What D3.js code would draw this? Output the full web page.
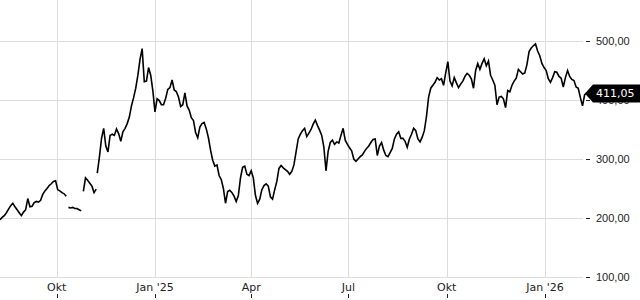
<!DOCTYPE html>
<html>
  <head>
    <meta charset="utf-8">
    <title>Kursverlauf</title>
    <script src="https://d3js.org/d3.v7.min.js"></script>
    <style>
      html, body { margin: 0; padding: 0; background: #fff; }
      #chart { display: block; font-family: "DejaVu Sans", sans-serif; }
      .grid line { stroke: #dcdcdc; stroke-width: 1; shape-rendering: crispEdges; }
      .price { fill: none; stroke: #000; stroke-width: 1.6; stroke-linejoin: miter; }
      .axisText { font-size: 11px; fill: #222; }
      .tick line { stroke: #222; }
    </style>
  </head>
  <body>
    <svg id="chart" width="640" height="300">
      <g id="gridGroup" class="grid"></g>
      <g id="axisGroup"></g>
      <g id="lineGroup"></g>
      <g id="labelGroup"></g>
    </svg>
    <script>
      // chart data: price segments, one value every two days from each start date
      var segmentStarts = ["2024-08-09", "2024-10-12", "2024-10-26", "2024-11-08"];
      var stepDays = 2;
      var seg1 = [197, 201, 204, 209, 215, 221, 225, 219, 214, 209, 204, 210, 214, 233, 219, 220,
        226, 228, 227, 230, 240, 246, 250, 255, 258, 262, 263, 248, 246, 243, 241, 237];
      var seg2 = [218, 217, 218, 216, 216, 214, 212];
      var seg3 = [245, 268, 264, 259, 254, 243, 249];
      var seg4 = [276, 303, 335, 352, 322, 312, 340, 342, 340, 351, 343, 330, 346, 352, 360, 371,
        390, 404, 420, 442, 469, 487, 431, 432, 455, 442, 416, 380, 402, 399, 392, 392,
        403, 418, 421, 434, 417, 414, 405, 389, 392, 412, 390, 383, 370, 365, 345, 336,
        354, 360, 362, 351, 336, 315, 298, 288, 290, 272, 265, 250, 225, 245, 247, 243,
        237, 228, 238, 268, 286, 288, 274, 272, 280, 268, 238, 225, 232, 248, 255, 258,
        254, 236, 232, 248, 262, 284, 289, 285, 282, 279, 274, 279, 290, 312, 334, 342,
        348, 352, 338, 344, 350, 359, 366, 357, 349, 340, 320, 280, 313, 328, 332, 325,
        329, 327, 340, 352, 332, 325, 319, 314, 300, 296, 300, 304, 307, 313, 318, 322,
        328, 333, 334, 306, 322, 328, 315, 306, 304, 311, 318, 334, 342, 346, 335, 335,
        330, 320, 334, 342, 352, 348, 334, 329, 337, 348, 372, 405, 420, 425, 430, 438,
        434, 436, 425, 446, 465, 432, 424, 438, 429, 421, 427, 432, 440, 445, 442, 436,
        420, 450, 462, 452, 462, 470, 458, 466, 442, 434, 425, 392, 405, 406, 402, 387,
        416, 414, 425, 432, 437, 452, 448, 444, 446, 460, 482, 488, 492, 495, 483, 475,
        462, 455, 450, 436, 430, 438, 448, 447, 440, 437, 422, 438, 450, 440, 435, 433,
        422, 420, 404, 390, 409, 412, 411.05];
      var segments = [seg1, seg2, seg3, seg4];
      // axis ticks
      var yTicks = [100, 200, 300, 400, 500];
      var xTickDates = ["2024-10-01", "2025-01-01", "2025-04-01", "2025-07-01", "2025-10-01", "2026-01-01"];
      var xTickLabels = ["Okt", "Jan '25", "Apr", "Jul", "Okt", "Jan '26"];
      var xDomain = ["2024-08-09", "2026-02-12"];

      var parse = d3.timeParse("%Y-%m-%d");
      var de = d3.formatLocale({ decimal: ",", thousands: ".", grouping: [3], currency: ["", " €"] });
      var fmt = de.format(",.2f");

      // build dated points per segment
      var series = segments.map(function(values, s) {
        var start = parse(segmentStarts[s]);
        return values.map(function(v, i) {
          return { date: d3.timeDay.offset(start, i * stepDays), value: v };
        });
      });
      var lastPoint = series[series.length - 1][series[series.length - 1].length - 1];

      // set up
      var plotRight = 583;
      var x = d3.scaleTime()
        .domain(xDomain.map(parse))
        .range([0, 590]);
      var y = d3.scaleLinear()
        .domain([100, 500])
        .range([277, 41]);

      var gridGroup = d3.select("#gridGroup");
      var axisGroup = d3.select("#axisGroup");
      var lineGroup = d3.select("#lineGroup");
      var labelGroup = d3.select("#labelGroup");

      // gridlines
      gridGroup.selectAll(".hgrid")
        .data(yTicks)
        .enter().append("line")
          .attr("x1", 0)
          .attr("x2", plotRight)
          .attr("y1", function(d) { return Math.round(y(d)) + 0.5; })
          .attr("y2", function(d) { return Math.round(y(d)) + 0.5; });
      gridGroup.selectAll(".vgrid")
        .data(xTickDates)
        .enter().append("line")
          .attr("x1", function(d) { return Math.round(x(parse(d))) + 0.5; })
          .attr("x2", function(d) { return Math.round(x(parse(d))) + 0.5; })
          .attr("y1", 0)
          .attr("y2", y(100));

      // y axis on the right
      var yAxis = d3.axisRight(y)
        .tickValues(yTicks)
        .tickSize(4)
        .tickPadding(6)
        .tickFormat(fmt);
      axisGroup.append("g")
        .attr("transform", "translate(586, 0)")
        .call(yAxis)
        .call(function(g) { g.select(".domain").remove(); })
        .call(function(g) {
          g.selectAll("text")
            .attr("class", "axisText")
            .attr("font-family", null)
            .attr("font-size", null)
            .attr("fill", null);
        });

      // x labels, with tick marks below
      var xg = axisGroup.append("g");
      xg.selectAll("text")
        .data(xTickDates)
        .enter().append("text")
          .attr("class", "axisText")
          .attr("x", function(d) { return x(parse(d)); })
          .attr("y", 291)
          .attr("text-anchor", "middle")
          .text(function(d, i) { return xTickLabels[i]; });
      xg.selectAll("line")
        .data(xTickDates)
        .enter().append("line")
          .attr("x1", function(d) { return Math.round(x(parse(d))) + 0.5; })
          .attr("x2", function(d) { return Math.round(x(parse(d))) + 0.5; })
          .attr("y1", 294)
          .attr("y2", 298)
          .attr("stroke", "#222");

      // price line
      var line = d3.line()
        .x(function(d) { return x(d.date); })
        .y(function(d) { return y(d.value); });
      lineGroup.selectAll("path")
        .data(series)
        .enter().append("path")
          .attr("class", "price")
          .attr("d", line);

      // last price marker
      var ly = y(lastPoint.value);
      var tip = x(lastPoint.date) - 4;
      labelGroup.append("path")
        .attr("d", "M" + tip + "," + ly + "L" + (tip + 8) + "," + (ly - 9) + "H640V" + (ly + 9) + "H" + (tip + 8) + "Z")
        .attr("fill", "#000");
      labelGroup.append("text")
        .attr("x", 596)
        .attr("y", ly + 4)
        .attr("font-size", "11px")
        .attr("fill", "#fff")
        .text(fmt(lastPoint.value));
    </script>
  </body>
</html>
